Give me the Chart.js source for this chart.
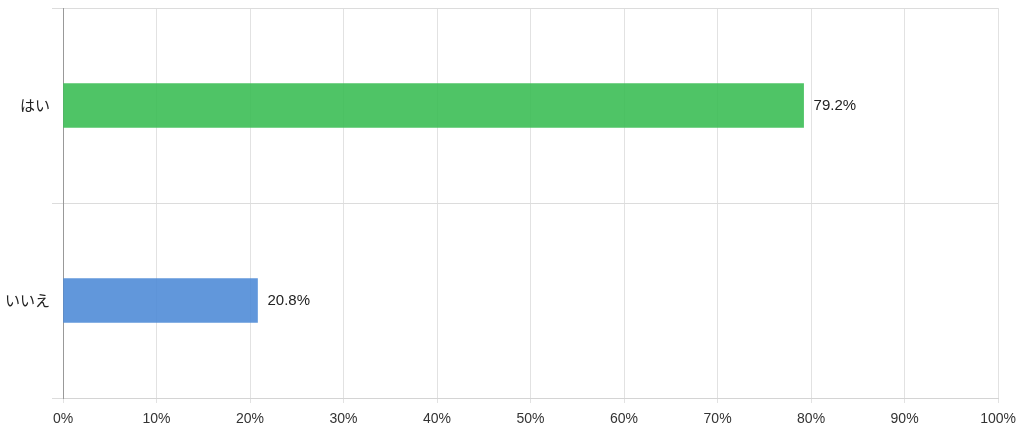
<!DOCTYPE html>
<html><head><meta charset="utf-8">
<script src="https://cdn.jsdelivr.net/npm/chart.js@4/dist/chart.umd.min.js"></script>
<style>html,body{margin:0;padding:0;background:#fff;}#wrap{width:1024px;height:432px;}</style>
</head><body><div id="wrap"><canvas id="c"></canvas></div>
<script>
const categories = ['はい', 'いいえ'];
const values = [79.2, 20.8];
const barColors = ['rgba(60,190,85,0.9)', 'rgba(75,137,214,0.88)'];
const xTicks = [0,10,20,30,40,50,60,70,80,90,100];

const labelPlugin = {
  id: 'valLabels',
  afterDatasetsDraw(chart) {
    const ctx = chart.ctx;
    const meta = chart.getDatasetMeta(0);
    ctx.save();
    ctx.font = '15px "Liberation Sans", Arial, sans-serif';
    ctx.fillStyle = '#222';
    ctx.textBaseline = 'middle';
    ctx.textAlign = 'left';
    meta.data.forEach((bar, i) => {
      ctx.fillText(values[i].toFixed(1) + '%', bar.x + 10, bar.y);
    });
    ctx.restore();
  }
};

new Chart(document.getElementById('c'), {
  type: 'bar',
  data: {
    labels: categories,
    datasets: [{
      data: values,
      backgroundColor: barColors,
      borderWidth: 0,
      barThickness: 44
    }]
  },
  options: {
    indexAxis: 'y',
    responsive: true,
    maintainAspectRatio: false,
    animation: false,
    layout: { padding: { top: 8, right: 24, left: 3, bottom: 6 } },
    plugins: { legend: { display: false }, tooltip: { enabled: false } },
    scales: {
      x: {
        min: 0, max: 100,
        afterBuildTicks(axis) { axis.ticks = xTicks.map(v => ({ value: v })); },
        afterFit(scale) { scale.height = 28; },
        ticks: {
          callback: v => v + '%',
          color: '#333',
          font: { size: 14, family: '"Liberation Sans", Arial, sans-serif' },
          maxRotation: 0, padding: 8
        },
        grid: { color: '#e2e2e2', tickLength: 5 },
        border: { display: true, color: '#d4d4d4' }
      },
      y: {
        afterFit(scale) { scale.paddingTop = 0; scale.paddingBottom = 0; },
        ticks: {
          color: '#222',
          font: { size: 15, family: '"Noto Sans CJK JP", sans-serif' },
          padding: 2
        },
        grid: { color: '#dcdcdc', offset: true, tickLength: 11 },
        border: { display: true, color: '#999' }
      }
    }
  },
  plugins: [labelPlugin]
});
</script></body></html>
